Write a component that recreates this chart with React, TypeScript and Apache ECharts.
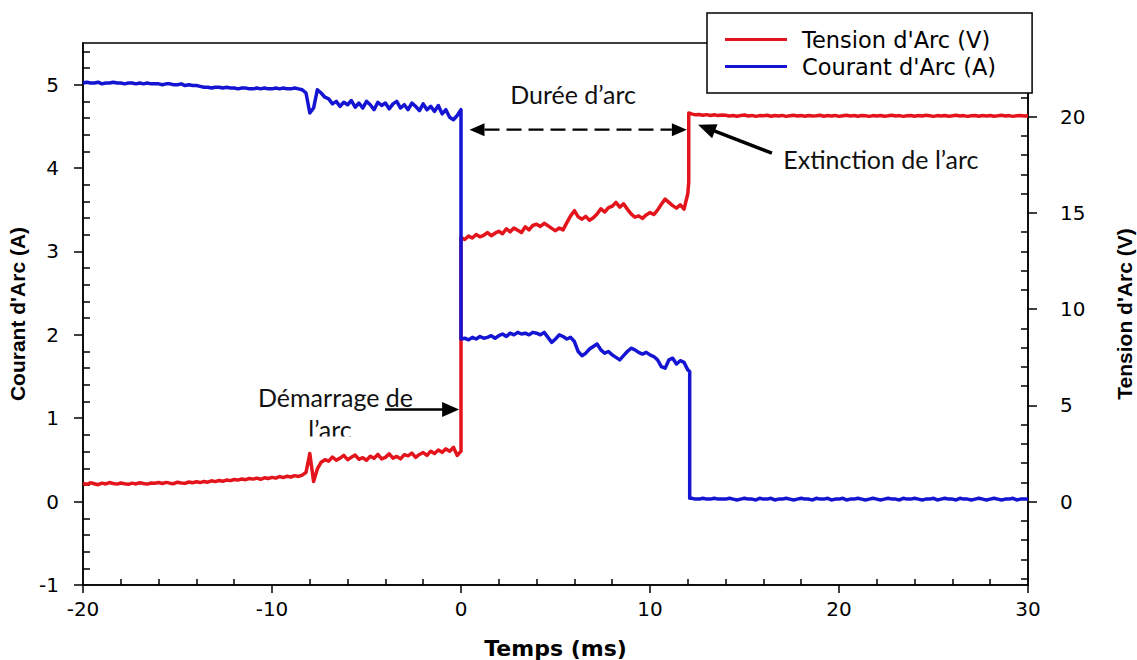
import React, { useEffect, useRef } from "react";
import * as echarts from "echarts";

// Sampling grid of the oscilloscope traces (ms)
const T_START = -20;
const T_STEP = 0.2;

// Arc current (A), one value per 0.2 ms from -20 ms to 30 ms
const current: number[] = [
  5.02, 5.03, 5.02, 5.02, 5.03, 5.01, 5.02, 5.02, 5.03, 5.02,
  5.02, 5.01, 5.02, 5.02, 5.01, 5.02, 5.01, 5.02, 5.01, 5.01,
  5.01, 5.0, 5.01, 5.01, 5.0, 5.0, 5.01, 4.99, 5.0, 4.99,
  4.99, 4.98, 4.97, 4.97, 4.96, 4.97, 4.97, 4.96, 4.97, 4.96,
  4.96, 4.95, 4.96, 4.96, 4.95, 4.95, 4.96, 4.95, 4.96, 4.95,
  4.95, 4.96, 4.95, 4.96, 4.95, 4.95, 4.96, 4.95, 4.94, 4.9,
  4.66, 4.72, 4.94, 4.9, 4.85, 4.83, 4.77, 4.8, 4.74, 4.79,
  4.76, 4.81, 4.73, 4.78, 4.72, 4.8, 4.76, 4.7, 4.79, 4.75,
  4.78, 4.71, 4.77, 4.8, 4.72, 4.76, 4.7, 4.78, 4.74, 4.69,
  4.77, 4.7, 4.74, 4.68, 4.75, 4.65, 4.7, 4.61, 4.58, 4.63,
  1.95, 1.96, 1.94, 1.97, 1.95, 1.98, 1.96, 1.97, 1.99, 1.96,
  1.99, 2.01, 1.98, 2.02, 2.0, 2.03, 2.01, 2.02, 2.0, 2.03,
  2.02, 2.0, 2.03, 1.97, 1.91, 1.95, 2.0, 1.98, 1.95, 1.97,
  1.92, 1.8, 1.75, 1.78, 1.83, 1.86, 1.89, 1.82, 1.78, 1.8,
  1.76, 1.73, 1.7, 1.75, 1.8, 1.84, 1.82, 1.79, 1.77, 1.79,
  1.76, 1.74, 1.7, 1.62, 1.6, 1.7, 1.72, 1.65, 1.69, 1.67,
  1.58, 0.04, 0.03, 0.03, 0.04, 0.03, 0.03, 0.04, 0.03, 0.03,
  0.03, 0.04, 0.03, 0.02, 0.03, 0.04, 0.03, 0.03, 0.02, 0.04,
  0.03, 0.03, 0.04, 0.02, 0.03, 0.03, 0.04, 0.03, 0.02, 0.03,
  0.04, 0.03, 0.03, 0.02, 0.04, 0.03, 0.03, 0.04, 0.02, 0.03,
  0.03, 0.04, 0.02, 0.03, 0.03, 0.04, 0.03, 0.02, 0.03, 0.04,
  0.03, 0.02, 0.03, 0.04, 0.03, 0.03, 0.02, 0.04, 0.03, 0.03,
  0.04, 0.03, 0.02, 0.03, 0.03, 0.04, 0.02, 0.03, 0.04, 0.03,
  0.03, 0.02, 0.04, 0.03, 0.03, 0.02, 0.03, 0.04, 0.03, 0.02,
  0.03, 0.04, 0.03, 0.02, 0.03, 0.03, 0.04, 0.02, 0.03, 0.03,
  0.03,
];

// Arc voltage (V), same sampling grid
const voltage: number[] = [
  0.95, 0.9, 0.98, 0.93, 0.88, 0.96, 0.92, 0.99, 0.94, 0.91,
  0.97, 0.93, 0.9, 0.96, 0.92, 0.98, 0.94, 0.91, 0.97, 0.95,
  0.99, 0.94, 1.0, 0.96, 0.93, 1.01, 0.97, 0.95, 1.02, 0.98,
  1.03, 0.99, 1.05, 1.01, 1.08, 1.04, 1.1, 1.06, 1.12, 1.09,
  1.15, 1.12, 1.18, 1.14, 1.2, 1.17, 1.22, 1.16, 1.24, 1.2,
  1.26, 1.22, 1.3, 1.25, 1.32, 1.28, 1.35, 1.31, 1.38, 1.52,
  2.5, 1.05, 1.7, 2.05, 2.18, 2.1, 2.32, 2.15, 2.26, 2.4,
  2.18, 2.3, 2.42, 2.2, 2.28, 2.15, 2.36, 2.25, 2.45, 2.22,
  2.3, 2.48, 2.26, 2.35, 2.22, 2.44, 2.38, 2.52, 2.3, 2.45,
  2.55, 2.4, 2.62, 2.5, 2.68, 2.56, 2.74, 2.62, 2.82, 2.4,
  13.72, 13.62, 13.8, 13.7, 13.88, 13.76, 13.84, 13.98, 13.82, 13.95,
  14.05, 13.92, 14.18, 14.02, 14.22, 14.1, 13.98, 14.28, 14.12, 14.35,
  14.42, 14.3, 14.46, 14.34, 14.2, 14.08, 14.22, 14.12, 14.5, 14.85,
  15.12, 14.8, 14.68, 14.82, 14.62, 14.75, 14.95, 15.22, 15.05, 15.28,
  15.35, 15.55, 15.3, 15.48, 15.2, 14.95, 14.78, 14.85, 14.72, 14.9,
  15.02, 14.92, 15.15, 15.45, 15.72, 15.55, 15.38, 15.25, 15.42, 15.2,
  16.0, 20.15, 20.1, 20.12, 20.08, 20.11, 20.07, 20.1, 20.06, 20.09,
  20.08, 20.04, 20.07, 20.03, 20.06, 20.09, 20.04, 20.07, 20.02, 20.06,
  20.05, 20.08, 20.03, 20.06, 20.04, 20.07, 20.02, 20.05, 20.08, 20.04,
  20.06, 20.03, 20.07, 20.04, 20.05, 20.08, 20.03, 20.06, 20.04, 20.07,
  20.02, 20.05, 20.08, 20.04, 20.06, 20.03, 20.07, 20.05, 20.02, 20.06,
  20.04, 20.07, 20.03, 20.05, 20.08, 20.04, 20.06, 20.02, 20.05, 20.07,
  20.03, 20.06, 20.04, 20.08, 20.05, 20.02, 20.06, 20.04, 20.07, 20.03,
  20.05, 20.08, 20.04, 20.06, 20.02, 20.05, 20.07, 20.03, 20.06, 20.04,
  20.07, 20.03, 20.05, 20.08, 20.04, 20.06, 20.02, 20.05, 20.07, 20.04,
  20.05,
];

// Extra samples at the instants where the traces jump (arc ignition / extinction)
const currentSteps: [number, number][] = [
  [0, 4.7],
  [12.1, 1.56],
  [12.1, 0.04],
];
const voltageSteps: [number, number][] = [
  [0, 2.62],
  [12.05, 16.6],
  [12.05, 20.2],
];

// Axes
const TIME_MIN = -20;
const TIME_MAX = 30;
const CURRENT_MIN = -1;
const CURRENT_MAX = 5.5;
const VOLTAGE_MIN = -4.333;
const VOLTAGE_MAX = 23.833;
const currentTicks = [-1, 0, 1, 2, 3, 4, 5];
const voltageTicks = [0, 5, 10, 15, 20];

const timeMinor: number[] = [];
for (let k = -10; k <= 15; k++) if (k % 5 !== 0) timeMinor.push(k * 2);
const currentMinor: number[] = [];
for (let k = -5; k <= 27; k++) if (k % 5 !== 0) currentMinor.push(k / 5);
const voltageMinor: number[] = [];
for (let k = -4; k <= 23; k++) if (k % 5 !== 0) voltageMinor.push(k);

const RED = "#e3141c";
const BLUE = "#1414d2";
const ANNOT_FONT = "Lato, 'Open Sans', sans-serif";
const TICK_FONT = "'DejaVu Sans', sans-serif";
const NAME_FONT = "'Liberation Sans', Arial, sans-serif";

function buildTrace(values: number[], steps: [number, number][]) {
  const sampled: [number, number][] = values.map((v, i) => [
    Math.round((T_START + i * T_STEP) * 100) / 100,
    v,
  ]);
  // steps first so that, on equal times, they come before the grid sample
  return [...steps, ...sampled].sort((a, b) => a[0] - b[0]);
}

function arrowHead(tip: number[], from: number[], len: number, half: number) {
  const dx = tip[0] - from[0];
  const dy = tip[1] - from[1];
  const d = Math.hypot(dx, dy) || 1;
  const ux = dx / d;
  const uy = dy / d;
  const bx = tip[0] - ux * len;
  const by = tip[1] - uy * len;
  return {
    type: "polygon",
    z: 20,
    shape: {
      points: [
        [tip[0], tip[1]],
        [bx - uy * half, by + ux * half],
        [bx + uy * half, by - ux * half],
      ],
    },
    style: { fill: "#000" },
  };
}

function shorten(a: number[], b: number[], by: number) {
  const dx = b[0] - a[0];
  const dy = b[1] - a[1];
  const d = Math.hypot(dx, dy) || 1;
  return [b[0] - (dx / d) * by, b[1] - (dy / d) * by];
}

const lineAxisStyle = { color: "#000", width: 1.5 };

export default function App() {
  const ref = useRef<HTMLDivElement>(null);

  useEffect(() => {
    document.body.style.margin = "0";
    document.documentElement.style.overflow = "hidden";
    if (!ref.current) return;
    const chart = echarts.init(ref.current, undefined, { renderer: "svg" });

    const option: any = {
      animation: false,
      backgroundColor: "#fff",
      grid: {
        left: 83,
        right: 109,
        top: 43,
        bottom: 75,
        outerBoundsMode: "none",
        containLabel: false,
        show: true,
        borderColor: "#000",
        borderWidth: 1.5,
        backgroundColor: "transparent",
      },
      legend: {
        orient: "vertical",
        left: 707,
        top: 13,
        padding: [15, 36, 15, 18],
        itemGap: 4,
        itemWidth: 62,
        itemHeight: 3,
        icon: "rect",
        backgroundColor: "#fff",
        borderColor: "#000",
        borderWidth: 1.5,
        z: 10,
        textStyle: {
          fontFamily: TICK_FONT,
          fontSize: 22.5,
          color: "#000",
          padding: [0, 0, 0, 10],
        },
        data: ["Tension d'Arc (V)", "Courant d'Arc (A)"],
      },
      xAxis: [
        {
          type: "value",
          min: TIME_MIN,
          max: TIME_MAX,
          interval: 10,
          position: "bottom",
          axisLine: { show: true, onZero: false, lineStyle: lineAxisStyle },
          axisTick: { show: true, inside: false, length: 8, lineStyle: lineAxisStyle },
          axisLabel: { color: "#000", fontFamily: TICK_FONT, fontSize: 20, margin: 14 },
          splitLine: { show: false },
          name: "Temps (ms)",
          nameLocation: "middle",
          nameGap: 52,
          nameTextStyle: {
            fontFamily: TICK_FONT,
            fontWeight: "bold",
            fontSize: 22,
            color: "#000",
          },
        },
        {
          type: "value",
          min: TIME_MIN,
          max: TIME_MAX,
          position: "bottom",
          axisLine: { show: false, onZero: false },
          axisTick: {
            show: true,
            inside: true,
            length: 6,
            customValues: timeMinor,
            lineStyle: lineAxisStyle,
          },
          axisLabel: { show: false },
          splitLine: { show: false },
        },
      ],
      yAxis: [
        {
          type: "value",
          min: CURRENT_MIN,
          max: CURRENT_MAX,
          position: "left",
          axisLine: { show: true, onZero: false, lineStyle: lineAxisStyle },
          axisTick: {
            show: true,
            inside: false,
            length: 9,
            customValues: currentTicks,
            lineStyle: lineAxisStyle,
          },
          axisLabel: {
            customValues: currentTicks,
            color: "#000",
            fontFamily: TICK_FONT,
            fontSize: 20,
            margin: 24,
          },
          splitLine: { show: false },
          name: "Courant d'Arc (A)",
          nameLocation: "middle",
          nameRotate: 90,
          nameGap: 54,
          nameTextStyle: {
            fontFamily: NAME_FONT,
            fontWeight: "bold",
            fontSize: 21,
            color: "#000",
          },
        },
        {
          type: "value",
          min: CURRENT_MIN,
          max: CURRENT_MAX,
          position: "left",
          axisLine: { show: false, onZero: false },
          axisTick: {
            show: true,
            inside: true,
            length: 7,
            customValues: currentMinor,
            lineStyle: lineAxisStyle,
          },
          axisLabel: { show: false },
          splitLine: { show: false },
        },
        {
          type: "value",
          min: VOLTAGE_MIN,
          max: VOLTAGE_MAX,
          position: "right",
          axisLine: { show: true, onZero: false, lineStyle: lineAxisStyle },
          axisTick: {
            show: true,
            inside: false,
            length: 9,
            customValues: voltageTicks,
            lineStyle: lineAxisStyle,
          },
          axisLabel: {
            customValues: voltageTicks,
            color: "#000",
            fontFamily: TICK_FONT,
            fontSize: 20,
            margin: 32,
          },
          splitLine: { show: false },
          name: "Tension d'Arc (V)",
          nameLocation: "middle",
          nameRotate: 90,
          nameGap: 86,
          nameTextStyle: {
            fontFamily: NAME_FONT,
            fontWeight: "bold",
            fontSize: 21,
            color: "#000",
          },
        },
        {
          type: "value",
          min: VOLTAGE_MIN,
          max: VOLTAGE_MAX,
          position: "right",
          axisLine: { show: false, onZero: false },
          axisTick: {
            show: true,
            inside: true,
            length: 7,
            customValues: voltageMinor,
            lineStyle: lineAxisStyle,
          },
          axisLabel: { show: false },
          splitLine: { show: false },
        },
      ],
      series: [
        {
          name: "Tension d'Arc (V)",
          type: "line",
          xAxisIndex: 0,
          yAxisIndex: 2,
          showSymbol: false,
          symbol: "none",
          color: RED,
          lineStyle: { color: RED, width: 3.5, join: "round" },
          data: buildTrace(voltage, voltageSteps),
        },
        {
          name: "Courant d'Arc (A)",
          type: "line",
          xAxisIndex: 0,
          yAxisIndex: 0,
          showSymbol: false,
          symbol: "none",
          color: BLUE,
          lineStyle: { color: BLUE, width: 3.5, join: "round" },
          data: buildTrace(current, currentSteps),
        },
      ],
    };

    chart.setOption(option);

    // Annotations placed in (time, current) coordinates
    const P = (t: number, a: number) =>
      chart.convertToPixel({ xAxisIndex: 0, yAxisIndex: 0 }, [t, a]) as number[];

    const textStyle = (text: string, align: string) => ({
      text,
      fill: "#111",
      font: `25px ${ANNOT_FONT}`,
      textAlign: align,
      textVerticalAlign: "middle",
    });

    const elements: any[] = [];

    // Arc duration: dashed double arrow between ignition and extinction
    const dA = P(0.45, 4.46);
    const dB = P(11.95, 4.46);
    const dHead = 15;
    elements.push({
      type: "line",
      z: 20,
      shape: {
        x1: dA[0] + dHead,
        y1: dA[1],
        x2: dB[0] - dHead,
        y2: dB[1],
      },
      style: { stroke: "#000", lineWidth: 2.2, lineDash: [15, 7] },
    });
    elements.push(arrowHead(dA, dB, dHead, 6.5));
    elements.push(arrowHead(dB, dA, dHead, 6.5));
    const dText = P(5.93, 4.89);
    elements.push({
      type: "text",
      z: 20,
      x: dText[0],
      y: dText[1],
      style: textStyle("Durée d’arc", "center"),
    });

    // Extinction arrow
    const eTail = P(16.45, 4.18);
    const eTip = P(12.54, 4.52);
    const eHead = 18;
    const eEnd = shorten(eTail, eTip, eHead - 2);
    elements.push({
      type: "line",
      z: 20,
      shape: { x1: eTail[0], y1: eTail[1], x2: eEnd[0], y2: eEnd[1] },
      style: { stroke: "#000", lineWidth: 3.5 },
    });
    elements.push(arrowHead(eTip, eTail, eHead, 7.5));
    const eText = P(17.05, 4.11);
    elements.push({
      type: "text",
      z: 20,
      x: eText[0],
      y: eText[1],
      style: textStyle("Extinction de l’arc", "left"),
    });

    // Ignition arrow
    const sTail = P(-4.02, 1.106);
    const sTip = P(-0.1, 1.106);
    const sHead = 17;
    elements.push({
      type: "line",
      z: 20,
      shape: { x1: sTail[0], y1: sTail[1], x2: sTip[0] - sHead + 2, y2: sTip[1] },
      style: { stroke: "#000", lineWidth: 2.5 },
    });
    elements.push(arrowHead(sTip, sTail, sHead, 7.5));
    const sText = P(-10.74, 1.26);
    elements.push({
      type: "text",
      z: 20,
      x: sText[0],
      y: sText[1],
      style: textStyle("Démarrage de", "left"),
    });
    const sText2 = P(-6.93, 0.865);
    elements.push({
      type: "text",
      z: 20,
      x: sText2[0],
      y: sText2[1],
      style: textStyle("l’arc", "center"),
    });
    // the caption box cuts the second line short
    elements.push({
      type: "rect",
      z: 21,
      shape: { x: sText2[0] - 32, y: sText2[1] + 7, width: 64, height: 10 },
      style: { fill: "#fff" },
    });

    chart.setOption({ graphic: { elements } });

    return () => chart.dispose();
  }, []);

  return (
    <div
      ref={ref}
      style={{ position: "fixed", left: 0, top: 0, width: 1137, height: 660 }}
    />
  );
}
